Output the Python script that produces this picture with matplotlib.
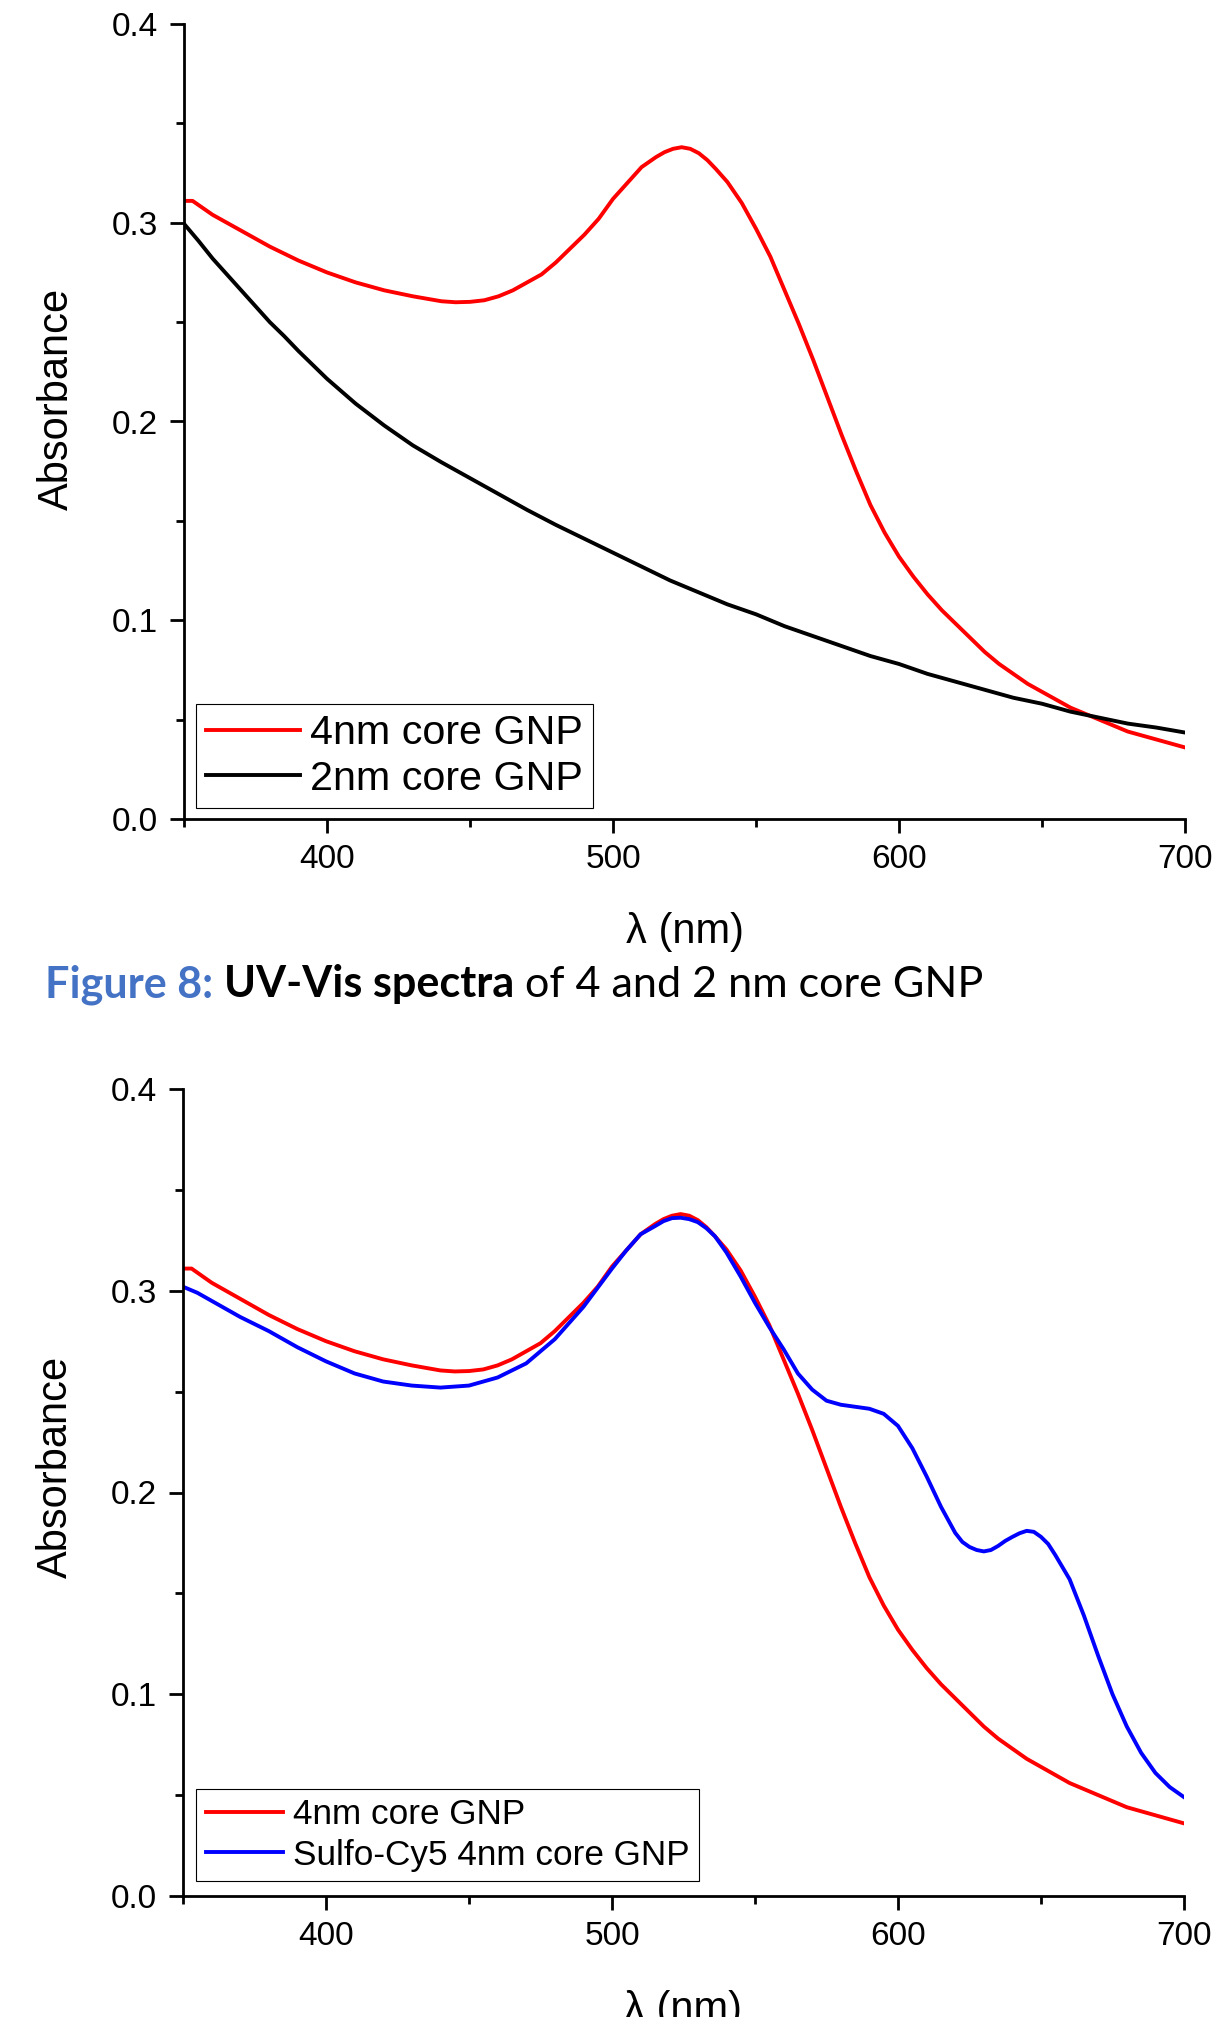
import matplotlib
matplotlib.use('Agg')
from matplotlib import pyplot as plt
from matplotlib.ticker import MultipleLocator, FormatStrFormatter

# wavelength (nm) and absorbance
wl_4nm = [350, 353, 360, 370, 380, 390, 400, 410, 420, 430, 440, 445, 450, 455,
          460, 465, 470, 475, 480, 485, 490, 495, 500, 505, 510, 515, 518, 521,
          524, 527, 530, 533, 536, 540, 545, 550, 555, 560, 565, 570, 575, 580,
          585, 590, 595, 600, 605, 610, 615, 620, 625, 630, 635, 640, 645, 650,
          655, 660, 665, 670, 675, 680, 685, 690, 695, 700]
abs_4nm = [0.311, 0.311, 0.304, 0.296, 0.288, 0.281, 0.275, 0.270, 0.266, 0.263,
           0.2605, 0.260, 0.2602, 0.261, 0.263, 0.266, 0.270, 0.274, 0.280, 0.287,
           0.294, 0.302, 0.312, 0.320, 0.328, 0.333, 0.3355, 0.3372, 0.338, 0.3372,
           0.335, 0.3315, 0.327, 0.3205, 0.310, 0.297, 0.283, 0.266, 0.249, 0.231,
           0.212, 0.193, 0.175, 0.158, 0.144, 0.132, 0.122, 0.113, 0.105, 0.098,
           0.091, 0.084, 0.078, 0.073, 0.068, 0.064, 0.060, 0.056, 0.053, 0.050,
           0.047, 0.044, 0.042, 0.040, 0.038, 0.036]

wl_2nm = [350, 355, 360, 365, 370, 375, 380, 385, 390, 400, 410, 420, 430, 440,
          450, 460, 470, 480, 490, 500, 510, 520, 530, 540, 550, 560, 570, 580,
          590, 600, 610, 620, 630, 640, 650, 660, 670, 680, 690, 700]
abs_2nm = [0.2995, 0.291, 0.282, 0.274, 0.266, 0.258, 0.250, 0.243, 0.2355, 0.2215,
           0.209, 0.198, 0.188, 0.1795, 0.1715, 0.1635, 0.1555, 0.148, 0.141, 0.134,
           0.127, 0.120, 0.114, 0.108, 0.103, 0.097, 0.092, 0.087, 0.082, 0.078,
           0.073, 0.069, 0.065, 0.061, 0.058, 0.054, 0.051, 0.048, 0.046, 0.0435]

wl_cy5 = [350, 355, 360, 370, 380, 390, 400, 410, 420, 430, 440, 450, 460, 470,
          480, 490, 500, 505, 510, 515, 518, 521, 524, 527, 530, 533, 536, 540,
          545, 550, 555, 560, 565, 570, 575, 580, 585, 590, 595, 600, 605, 610,
          615, 620, 622.5, 625, 627.5, 630, 632.5, 635, 637.5, 640, 642.5, 645,
          647.5, 650, 652.5, 655, 660, 665, 670, 675, 680, 685, 690, 695, 700]
abs_cy5 = [0.302, 0.299, 0.295, 0.287, 0.280, 0.272, 0.265, 0.259, 0.255, 0.253,
           0.252, 0.253, 0.257, 0.264, 0.276, 0.292, 0.311, 0.320, 0.328, 0.332,
           0.3345, 0.336, 0.3362, 0.3355, 0.334, 0.331, 0.327, 0.319, 0.307, 0.294,
           0.282, 0.271, 0.259, 0.251, 0.2455, 0.2435, 0.2425, 0.2415, 0.239, 0.233,
           0.222, 0.208, 0.193, 0.180, 0.1755, 0.173, 0.1715, 0.1708, 0.1715,
           0.1735, 0.176, 0.178, 0.1798, 0.181, 0.1805, 0.178, 0.1745, 0.169,
           0.157, 0.139, 0.119, 0.100, 0.084, 0.071, 0.061, 0.054, 0.049]

plt.rcParams['font.family'] = ['Liberation Sans', 'DejaVu Sans']

W, H = 1225, 2017
fig = plt.figure(figsize=(W / 100, H / 100), dpi=100)


def style_axes(ax):
    ax.set_xlim(350, 700)
    ax.set_ylim(0, 0.4)
    for s in ['top', 'right']:
        ax.spines[s].set_visible(False)
    for s in ['left', 'bottom']:
        ax.spines[s].set_linewidth(2)
    ax.xaxis.set_major_locator(MultipleLocator(100))
    ax.xaxis.set_minor_locator(MultipleLocator(50))
    ax.yaxis.set_major_locator(MultipleLocator(0.1))
    ax.yaxis.set_minor_locator(MultipleLocator(0.05))
    ax.yaxis.set_major_formatter(FormatStrFormatter('%.1f'))
    ax.tick_params(which='major', length=10, width=2, labelsize=24)
    ax.tick_params(which='minor', length=5.5, width=2)
    ax.tick_params(axis='x', which='major', pad=8)
    ax.tick_params(axis='y', which='major', pad=9)
    ax.set_xlabel('λ (nm)', fontsize=30)
    ax.set_ylabel('Absorbance', fontsize=30)
    ax.xaxis.set_label_coords(0.5, -0.117)


# upper chart
ax1 = fig.add_axes([184 / W, 1 - 819 / H, 1001 / W, 795 / H])
ax1.plot(wl_4nm, abs_4nm, color='red', lw=2.8, label='4nm core GNP')
ax1.plot(wl_2nm, abs_2nm, color='black', lw=2.8, label='2nm core GNP')
style_axes(ax1)
ax1.yaxis.set_label_coords(-0.107, 0.528)
leg1 = ax1.legend(loc='lower left', bbox_to_anchor=(0.012, 0.014), borderaxespad=0,
                  fontsize=29.7, fancybox=False, edgecolor='black', framealpha=1,
                  handlelength=2.26, handletextpad=0.26, labelspacing=0.18,
                  borderpad=0.25)
leg1.get_frame().set_linewidth(0.8)

# lower chart
ax2 = fig.add_axes([183 / W, 1 - 1896 / H, 1001 / W, 807 / H])
ax2.plot(wl_4nm, abs_4nm, color='red', lw=2.8, label='4nm core GNP')
ax2.plot(wl_cy5, abs_cy5, color='blue', lw=2.8, label='Sulfo-Cy5 4nm core GNP')
style_axes(ax2)
ax2.yaxis.set_label_coords(-0.107, 0.532)
ax2.xaxis.set_label_coords(0.5, -0.116)
leg2 = ax2.legend(loc='lower left', bbox_to_anchor=(0.013, 0.0186), borderaxespad=0,
                  fontsize=25.3, fancybox=False, edgecolor='black', framealpha=1,
                  handlelength=2.2, handletextpad=0.3, labelspacing=0.2,
                  borderpad=0.27)
leg2.get_frame().set_linewidth(0.8)

# caption between the two charts, built from pieces of different style
parts = [('Figure 8:', '#4472C4', 'bold'),
         ('UV-Vis spectra', 'black', 'bold'),
         ('of 4 and 2 nm core GNP', 'black', 'normal')]
renderer = fig.canvas.get_renderer()


def caption_width(size):
    total = 0
    for txt, c, wgt in parts:
        t = fig.text(0, 0, txt, fontsize=size, family='Lato', fontweight=wgt)
        total += t.get_window_extent(renderer).width
        t.remove()
    sp = fig.text(0, 0, 'x x', fontsize=size, family='Lato')
    nsp = fig.text(0, 0, 'xx', fontsize=size, family='Lato')
    gap = sp.get_window_extent(renderer).width - nsp.get_window_extent(renderer).width
    sp.remove()
    nsp.remove()
    return total + 2 * gap, gap


w0, _ = caption_width(24)
cap_size = 24 * 940 / w0
_, gap = caption_width(cap_size)
x = 45
for txt, c, wgt in parts:
    t = fig.text(x / W, 1 - 997 / H, txt, fontsize=cap_size, family='Lato',
                 fontweight=wgt, color=c, va='baseline')
    x = t.get_window_extent(renderer).x1 + gap

fig.savefig('out.png', dpi=100)
